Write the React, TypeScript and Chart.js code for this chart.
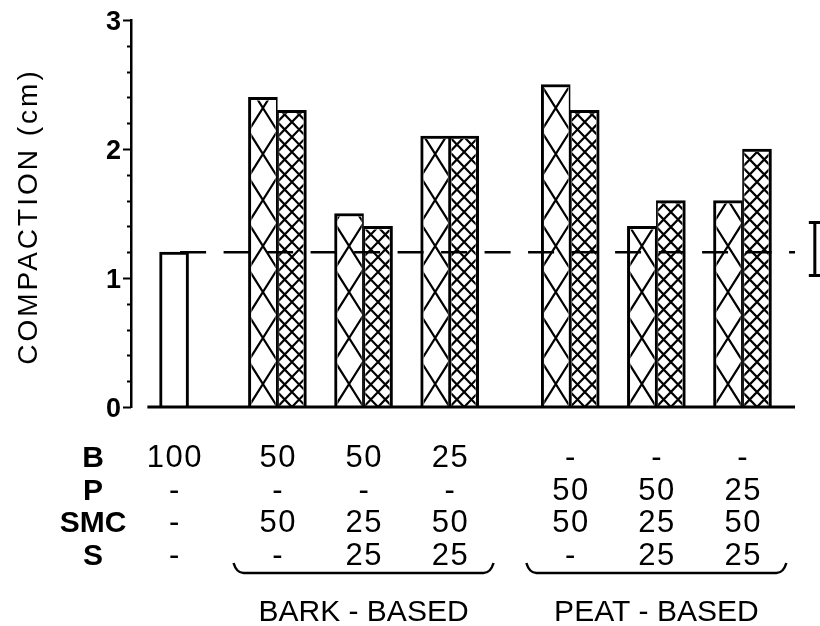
import React, { useEffect, useRef } from 'react';
import { Chart, registerables } from 'chart.js';

Chart.register(...registerables);

// ---------- data ----------
const groupNames = ['Control', 'Bark 1', 'Bark 2', 'Bark 3', 'Peat 1', 'Peat 2', 'Peat 3'];
const controlValues = [1.2];
const seriesWide = [2.4, 1.5, 2.1, 2.5, 1.4, 1.6];
const seriesFine = [2.3, 1.4, 2.1, 2.3, 1.6, 2.0];
const referenceLevel = 1.2;
const lsdRange = [1.02, 1.43];
const yTicks = [0, 1, 2, 3];
const yTitle = 'COMPACTION (cm)';
const rowLabels = ['B', 'P', 'SMC', 'S'];
const rowB = ['100', '50', '50', '25', '-', '-', '-'];
const rowP = ['-', '-', '-', '-', '50', '50', '25'];
const rowSMC = ['-', '50', '25', '50', '50', '25', '50'];
const rowS = ['-', '-', '25', '25', '-', '25', '25'];
const familyLabels = ['BARK - BASED', 'PEAT - BASED'];
const familyMiddleGroup = [2, 5];

// ---------- layout ----------
const SLOT = [0, 1.2, 2.2, 3.2, 4.6, 5.6, 6.6];
const BAR = 29;
const FONT = '"Liberation Sans", Arial, Helvetica, sans-serif';
const ROW_BASELINES = [467, 499.5, 532, 564.5];

const decor = {
  id: 'decor',
  beforeDraw(chart: any) {
    const ctx = chart.ctx;
    ctx.save();
    ctx.fillStyle = '#fff';
    ctx.fillRect(0, 0, chart.width, chart.height);
    ctx.restore();
  },
  afterDatasetsDraw(chart: any) {
    const ctx = chart.ctx;
    const xs = chart.scales.x;
    const ys = chart.scales.y;

    // hatching inside bars
    chart.data.datasets.forEach((ds: any, di: number) => {
      const kind = ds.hatch;
      if (!kind) return;
      const meta = chart.getDatasetMeta(di);
      meta.data.forEach((el: any) => {
        const { x, y, base, width } = el.getProps(['x', 'y', 'base', 'width'], true);
        const bw = ds.borderWidth;
        const L = x - width / 2;
        const W = width;
        const l = L + bw.left;
        const r = L + W - bw.right;
        const t = y + bw.top;
        const b = base;
        ctx.save();
        ctx.beginPath();
        ctx.rect(l, t, r - l, b - t);
        ctx.clip();
        const nAcross = kind === 'wide' ? 1 : 2;
        const dw = W / nAcross;
        const dh = kind === 'wide' ? 46 : 15;
        const m = dh / dw;
        ctx.strokeStyle = '#000';
        ctx.lineWidth = 2.2;
        ctx.beginPath();
        const H = b - y;
        const kMin = -(nAcross + 2);
        const kMax = Math.ceil(H / dh) + nAcross + 2;
        for (let k = kMin; k <= kMax; k++) {
          ctx.moveTo(L, b - k * dh);
          ctx.lineTo(L + W, b - (W * m + k * dh));
          ctx.moveTo(L, b - k * dh);
          ctx.lineTo(L + W, b - (-W * m + k * dh));
        }
        ctx.stroke();
        ctx.restore();
      });
    });

    const y0 = ys.getPixelForValue(0);

    // x axis line
    ctx.save();
    ctx.strokeStyle = '#000';
    ctx.lineWidth = 3;
    ctx.beginPath();
    ctx.moveTo(xs.getPixelForValue(-0.31), y0);
    ctx.lineTo(xs.getPixelForValue(7.21), y0);
    ctx.stroke();

    // dashed reference line
    const yr = ys.getPixelForValue(referenceLevel);
    ctx.lineWidth = 2.5;
    ctx.setLineDash([26, 17.5]);
    ctx.beginPath();
    ctx.moveTo(xs.getPixelForValue(0.07), yr);
    ctx.lineTo(xs.getPixelForValue(7.21), yr);
    ctx.stroke();
    ctx.setLineDash([]);

    // LSD bar
    const xe = xs.getPixelForValue(7.44);
    const ylo = ys.getPixelForValue(lsdRange[0]);
    const yhi = ys.getPixelForValue(lsdRange[1]);
    ctx.lineWidth = 3;
    ctx.beginPath();
    ctx.moveTo(xe, ylo);
    ctx.lineTo(xe, yhi);
    ctx.moveTo(xe - 6, ylo);
    ctx.lineTo(xe + 6, ylo);
    ctx.moveTo(xe - 6, yhi);
    ctx.lineTo(xe + 6, yhi);
    ctx.stroke();

    // y ticks (major + minor) and labels
    const ax = chart.chartArea.left;
    ctx.lineWidth = 2;
    ctx.beginPath();
    for (let i = 0; i <= 15; i++) {
      const v = i * 0.2;
      const py = Math.round(ys.getPixelForValue(v)) + 0.5;
      const len = i % 5 === 0 ? 8 : 4;
      ctx.moveTo(ax - len, py);
      ctx.lineTo(ax, py);
    }
    ctx.stroke();
    ctx.fillStyle = '#000';
    ctx.font = `bold 27px ${FONT}`;
    ctx.textAlign = 'right';
    ctx.textBaseline = 'alphabetic';
    ys.ticks.forEach((tk: any) => {
      ctx.fillText(String(tk.value), ax - 10, ys.getPixelForValue(tk.value) + 9.5);
    });

    // y title
    ctx.save();
    ctx.translate(29, 218);
    ctx.rotate(-Math.PI / 2);
    ctx.fillStyle = '#000';
    ctx.font = `28px ${FONT}`;
    (ctx as any).letterSpacing = '3px';
    ctx.textAlign = 'center';
    ctx.textBaseline = 'middle';
    ctx.fillText(yTitle, 1.5, 0);
    ctx.restore();

    // table
    const rows = [rowB, rowP, rowSMC, rowS];
    ctx.fillStyle = '#000';
    ctx.textBaseline = 'alphabetic';
    ctx.textAlign = 'center';
    ctx.font = `bold 30px ${FONT}`;
    (ctx as any).letterSpacing = '0px';
    rowLabels.forEach((lab, ri) => ctx.fillText(lab, 93, ROW_BASELINES[ri]));
    ctx.font = `31px ${FONT}`;
    (ctx as any).letterSpacing = '1.5px';
    rows.forEach((row, ri) => {
      row.forEach((txt, ci) => {
        ctx.fillText(txt, xs.getPixelForValue(SLOT[ci]) + 0.75, ROW_BASELINES[ri]);
      });
    });
    (ctx as any).letterSpacing = '0px';

    // braces + family labels
    ctx.lineWidth = 2.5;
    familyLabels.forEach((lab, fi) => {
      const cx = xs.getPixelForValue(SLOT[familyMiddleGroup[fi]]);
      const x0 = cx - 130;
      const x1 = cx + 130;
      ctx.beginPath();
      ctx.moveTo(x0, 563);
      ctx.quadraticCurveTo(x0 + 3, 573, x0 + 10, 573);
      ctx.lineTo(x1 - 10, 573);
      ctx.quadraticCurveTo(x1 - 3, 573, x1, 563);
      ctx.stroke();
      ctx.font = `30px ${FONT}`;
      ctx.fillText(lab, cx, 621);
    });
    ctx.restore();
  },
};

export default function App() {
  const ref = useRef<HTMLCanvasElement | null>(null);
  useEffect(() => {
    const canvas = ref.current;
    if (!canvas) return;
    const chart = new Chart(canvas, {
      type: 'bar',
      data: {
        labels: groupNames,
        datasets: [
          {
            label: 'Control',
            data: controlValues.map((v, i) => ({ x: SLOT[i], y: v })),
            backgroundColor: '#fff',
            borderColor: '#000',
            borderWidth: { top: 3, left: 3, right: 3, bottom: 0 },
            grouped: false,
            barThickness: BAR,
          } as any,
          {
            label: 'Wide hatch',
            hatch: 'wide',
            data: seriesWide.map((v, i) => ({ x: SLOT[i + 1], y: v })),
            backgroundColor: '#fff',
            borderColor: '#000',
            borderWidth: { top: 3, left: 3, right: 1.75, bottom: 0 },
            barThickness: BAR,
          } as any,
          {
            label: 'Fine hatch',
            hatch: 'fine',
            data: seriesFine.map((v, i) => ({ x: SLOT[i + 1], y: v })),
            backgroundColor: '#fff',
            borderColor: '#000',
            borderWidth: { top: 3, left: 1.75, right: 3, bottom: 0 },
            barThickness: BAR,
          } as any,
        ],
      },
      options: {
        animation: false,
        responsive: false,
        devicePixelRatio: 1,
        layout: { padding: { left: 0, right: 0, top: 20, bottom: 219 } },
        plugins: {
          legend: { display: false },
          tooltip: { enabled: false },
        },
        scales: {
          x: { type: 'linear', min: -0.5, max: 7.5, offset: false, display: false },
          y: {
            min: 0,
            max: 3,
            afterBuildTicks: (s: any) => {
              s.ticks = yTicks.map((v) => ({ value: v }));
            },
            afterFit: (s: any) => {
              s.width = 131;
            },
            ticks: { display: false },
            grid: { display: false, drawTicks: false },
            border: { display: true, color: '#000', width: 2.5 },
          },
        },
      } as any,
      plugins: [decor],
    });
    return () => chart.destroy();
  }, []);
  return (
    <div style={{ position: 'absolute', left: 0, top: 0, width: 820, height: 626, background: '#fff' }}>
      <canvas ref={ref} width={820} height={626} style={{ display: 'block' }} />
    </div>
  );
}
